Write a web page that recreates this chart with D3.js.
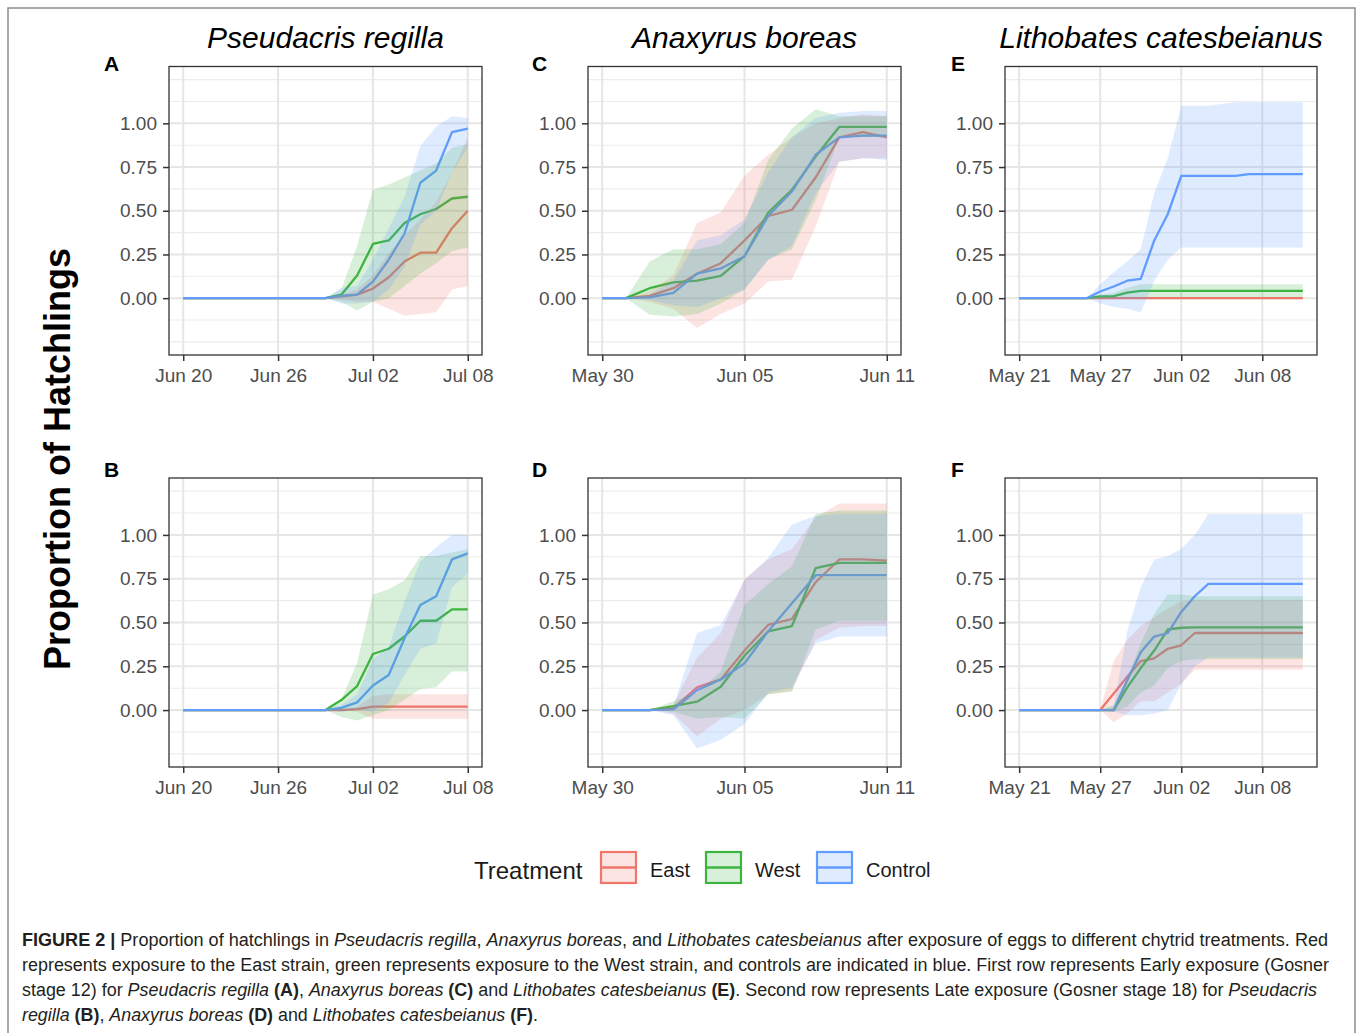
<!DOCTYPE html>
<html>
<head>
<meta charset="utf-8">
<script src="https://cdn.jsdelivr.net/npm/d3@7"></script>
<style>
  body { margin: 0; background: #fff; }
  svg text { white-space: pre; }
</style>
</head>
<body>
<div id="chart"></div>
<script>
// ---- data ----
// Pseudacris regilla: Jun 20 .. Jul 08
const prStart = '2018-06-20', prEnd = '2018-07-08';
const prTicks = ['2018-06-20', '2018-06-26', '2018-07-02', '2018-07-08'];
// Anaxyrus boreas: May 30 .. Jun 11
const abStart = '2018-05-30', abEnd = '2018-06-11';
const abTicks = ['2018-05-30', '2018-06-05', '2018-06-11'];
// Lithobates catesbeianus: May 21 .. Jun 11
const lcStart = '2018-05-21', lcEnd = '2018-06-11';
const lcTicks = ['2018-05-21', '2018-05-27', '2018-06-02', '2018-06-08'];

const yTicks = [0, 0.25, 0.5, 0.75, 1];
const treatments = ['East', 'West', 'Control'];

// A - Pseudacris regilla, early
const A_east      = [0,0,0,0,0,0,0,0,0,0, 0.01,0.02,0.055,0.12,0.21,0.26,0.26,0.40,0.50];
const A_eastLo    = [0,0,0,0,0,0,0,0,0,0, -0.01,-0.02,-0.02,-0.06,-0.10,-0.09,-0.08,0.05,0.07];
const A_eastHi    = [0,0,0,0,0,0,0,0,0,0, 0.02,0.05,0.13,0.26,0.36,0.45,0.55,0.72,0.92];
const A_west      = [0,0,0,0,0,0,0,0,0,0, 0.02,0.13,0.31,0.33,0.43,0.48,0.51,0.57,0.58];
const A_westLo    = [0,0,0,0,0,0,0,0,0,0, -0.02,-0.07,-0.02,0.0,0.07,0.14,0.20,0.27,0.29];
const A_westHi    = [0,0,0,0,0,0,0,0,0,0, 0.05,0.30,0.62,0.65,0.69,0.73,0.77,0.86,0.88];
const A_control   = [0,0,0,0,0,0,0,0,0,0, 0.013,0.02,0.095,0.22,0.37,0.66,0.73,0.95,0.97];
const A_controlLo = [0,0,0,0,0,0,0,0,0,0, -0.03,-0.03,-0.02,0.05,0.18,0.42,0.50,0.72,0.86];
const A_controlHi = [0,0,0,0,0,0,0,0,0,0, 0.06,0.07,0.22,0.40,0.58,0.87,0.98,1.04,1.03];

// B - Pseudacris regilla, late
const B_east      = [0,0,0,0,0,0,0,0,0,0, 0,0.006,0.02,0.02,0.02,0.02,0.02,0.02,0.02];
const B_eastLo    = [0,0,0,0,0,0,0,0,0,0, 0,-0.01,-0.05,-0.05,-0.05,-0.05,-0.05,-0.05,-0.05];
const B_eastHi    = [0,0,0,0,0,0,0,0,0,0, 0,0.02,0.08,0.09,0.09,0.09,0.09,0.09,0.09];
const B_west      = [0,0,0,0,0,0,0,0,0,0, 0.057,0.137,0.32,0.35,0.42,0.51,0.51,0.575,0.575];
const B_westLo    = [0,0,0,0,0,0,0,0,0,0, -0.04,-0.06,-0.03,0.0,0.06,0.12,0.13,0.22,0.22];
const B_westHi    = [0,0,0,0,0,0,0,0,0,0, 0.06,0.27,0.66,0.69,0.74,0.88,0.88,0.90,0.92];
const B_control   = [0,0,0,0,0,0,0,0,0,0, 0.013,0.044,0.14,0.20,0.41,0.60,0.65,0.86,0.895];
const B_controlLo = [0,0,0,0,0,0,0,0,0,0, -0.01,0.0,-0.01,0.04,0.20,0.35,0.38,0.70,0.78];
const B_controlHi = [0,0,0,0,0,0,0,0,0,0, 0.03,0.09,0.29,0.36,0.62,0.85,0.93,1.00,1.00];

// C - Anaxyrus boreas, early
const C_east      = [0,0,0.013,0.057,0.14,0.20,0.33,0.47,0.505,0.69,0.92,0.95,0.92];
const C_eastLo    = [0,0,-0.02,-0.06,-0.17,-0.09,-0.03,0.095,0.105,0.41,0.78,0.80,0.80];
const C_eastHi    = [0,0,0.04,0.13,0.43,0.49,0.70,0.82,0.92,1.00,1.03,1.05,1.04];
const C_west      = [0,0,0.057,0.09,0.10,0.128,0.24,0.49,0.62,0.81,0.98,0.98,0.98];
const C_westLo    = [0,0,-0.095,-0.105,-0.09,-0.03,0.05,0.22,0.28,0.56,0.92,0.92,0.92];
const C_westHi    = [0,0,0.21,0.28,0.28,0.31,0.43,0.79,0.97,1.08,1.04,1.04,1.04];
const C_control   = [0,0,0.004,0.03,0.14,0.17,0.24,0.47,0.61,0.82,0.92,0.93,0.93];
const C_controlLo = [0,0,-0.01,-0.04,-0.05,0.0,0.05,0.22,0.30,0.60,0.78,0.80,0.79];
const C_controlHi = [0,0,0.02,0.10,0.33,0.36,0.45,0.72,0.92,1.03,1.06,1.07,1.07];

// D - Anaxyrus boreas, late
const D_east      = [0,0,0,0.01,0.13,0.175,0.34,0.486,0.52,0.73,0.86,0.86,0.853];
const D_eastLo    = [0,0,0,-0.02,-0.15,-0.05,0.0,0.09,0.11,0.40,0.47,0.48,0.48];
const D_eastHi    = [0,0,0,0.03,0.30,0.44,0.75,0.86,0.92,1.10,1.18,1.18,1.18];
const D_west      = [0,0,0,0.023,0.048,0.133,0.31,0.45,0.48,0.81,0.84,0.84,0.84];
const D_westLo    = [0,0,0,-0.01,-0.05,-0.04,-0.05,0.09,0.105,0.46,0.51,0.51,0.51];
const D_westHi    = [0,0,0,0.05,0.10,0.22,0.60,0.72,0.82,1.12,1.14,1.14,1.14];
const D_control   = [0,0,0,0.004,0.114,0.175,0.267,0.45,0.61,0.77,0.77,0.77,0.77];
const D_controlLo = [0,0,0,-0.03,-0.22,-0.17,-0.08,0.10,0.13,0.38,0.42,0.42,0.42];
const D_controlHi = [0,0,0,0.02,0.44,0.486,0.74,0.87,1.06,1.11,1.12,1.12,1.12];

// E - Lithobates catesbeianus, early
const E_east      = [0,0,0,0,0,0,0,0,0,0,0,0,0,0,0,0,0,0,0,0,0,0];
const E_eastLo    = [0,0,0,0,0,0,0,0,0,0,0,0,0,0,0,0,0,0,0,0,0,0];
const E_eastHi    = [0,0,0,0,0,0,0,0,0,0,0,0,0,0,0,0,0,0,0,0,0,0];
const E_west      = [0,0,0,0,0,0, 0.01,0.012,0.032,0.042,0.042,0.042,0.042,0.042,0.042,0.042,0.042,0.042,0.042,0.042,0.042,0.042];
const E_westLo    = [0,0,0,0,0,0, 0,0,0,0.005,0.005,0.005,0.005,0.005,0.005,0.005,0.005,0.005,0.005,0.005,0.005,0.005];
const E_westHi    = [0,0,0,0,0,0, 0.02,0.03,0.06,0.08,0.08,0.08,0.08,0.08,0.08,0.08,0.08,0.08,0.08,0.08,0.08,0.08];
const E_control   = [0,0,0,0,0,0, 0.038,0.067,0.10,0.11,0.33,0.48,0.70,0.70,0.70,0.70,0.70,0.71,0.71,0.71,0.71,0.71];
const E_controlLo = [0,0,0,0,0,0, -0.03,-0.05,-0.06,-0.08,0.10,0.22,0.29,0.29,0.29,0.29,0.29,0.29,0.29,0.29,0.29,0.29];
const E_controlHi = [0,0,0,0,0,0, 0.08,0.15,0.21,0.28,0.60,0.80,1.10,1.10,1.10,1.11,1.12,1.12,1.12,1.12,1.12,1.12];

// F - Lithobates catesbeianus, late
const F_east      = [0,0,0,0,0,0, 0,0.095,0.19,0.28,0.295,0.35,0.37,0.44,0.44,0.44,0.44,0.44,0.44,0.44,0.44,0.44];
const F_eastLo    = [0,0,0,0,0,0, 0,-0.07,-0.02,0.05,0.05,0.10,0.15,0.23,0.23,0.23,0.23,0.23,0.23,0.23,0.23,0.23];
const F_eastHi    = [0,0,0,0,0,0, 0,0.28,0.40,0.48,0.53,0.58,0.62,0.63,0.63,0.63,0.63,0.63,0.63,0.63,0.63,0.63];
const F_west      = [0,0,0,0,0,0,0, 0,0.13,0.24,0.34,0.46,0.47,0.472,0.472,0.472,0.472,0.472,0.472,0.472,0.472,0.472];
const F_westLo    = [0,0,0,0,0,0,0, -0.01,0.02,0.10,0.14,0.24,0.28,0.29,0.29,0.29,0.29,0.29,0.29,0.29,0.29,0.29];
const F_westHi    = [0,0,0,0,0,0,0, 0.03,0.18,0.38,0.55,0.66,0.66,0.65,0.65,0.65,0.65,0.65,0.65,0.65,0.65,0.65];
const F_control   = [0,0,0,0,0,0,0, 0,0.17,0.33,0.42,0.44,0.56,0.65,0.72,0.72,0.72,0.72,0.72,0.72,0.72,0.72];
const F_controlLo = [0,0,0,0,0,0,0, -0.01,-0.03,-0.03,-0.02,0.0,0.15,0.25,0.30,0.30,0.30,0.30,0.30,0.30,0.30,0.30];
const F_controlHi = [0,0,0,0,0,0,0, 0.02,0.45,0.70,0.86,0.88,0.92,1.00,1.12,1.12,1.12,1.12,1.12,1.12,1.12,1.12];

const speciesTitles = ['Pseudacris regilla', 'Anaxyrus boreas', 'Lithobates catesbeianus'];

// ---- layout ----
var W = 1358, H = 1033;
var colors = { East: '#F0766C', West: '#3DB43F', Control: '#619CFF' };
var cols = [{ x0: 169, x1: 482, tag: 104 }, { x0: 588, x1: 901, tag: 532 }, { x0: 1005, x1: 1317, tag: 951 }];
var rows = [{ y0: 66.5, y1: 355, tag: 71 }, { y0: 478, y1: 767, tag: 477 }];
var sans = '"Liberation Sans", Arial, Helvetica, sans-serif';

var panels = [
  { tag: 'A', col: 0, row: 0, start: prStart, end: prEnd, ticks: prTicks,
    East: [A_east, A_eastLo, A_eastHi], West: [A_west, A_westLo, A_westHi], Control: [A_control, A_controlLo, A_controlHi] },
  { tag: 'B', col: 0, row: 1, start: prStart, end: prEnd, ticks: prTicks,
    East: [B_east, B_eastLo, B_eastHi], West: [B_west, B_westLo, B_westHi], Control: [B_control, B_controlLo, B_controlHi] },
  { tag: 'C', col: 1, row: 0, start: abStart, end: abEnd, ticks: abTicks,
    East: [C_east, C_eastLo, C_eastHi], West: [C_west, C_westLo, C_westHi], Control: [C_control, C_controlLo, C_controlHi] },
  { tag: 'D', col: 1, row: 1, start: abStart, end: abEnd, ticks: abTicks,
    East: [D_east, D_eastLo, D_eastHi], West: [D_west, D_westLo, D_westHi], Control: [D_control, D_controlLo, D_controlHi] },
  { tag: 'E', col: 2, row: 0, start: lcStart, end: lcEnd, ticks: lcTicks,
    East: [E_east, E_eastLo, E_eastHi], West: [E_west, E_westLo, E_westHi], Control: [E_control, E_controlLo, E_controlHi] },
  { tag: 'F', col: 2, row: 1, start: lcStart, end: lcEnd, ticks: lcTicks,
    East: [F_east, F_eastLo, F_eastHi], West: [F_west, F_westLo, F_westHi], Control: [F_control, F_controlLo, F_controlHi] }
];

var svg = d3.select('#chart').append('svg').attr('width', W).attr('height', H)
  .style('font-family', sans);

svg.append('rect').attr('width', W).attr('height', H).attr('fill', '#fff');
// figure frame
svg.append('rect').attr('x', 8).attr('y', 8).attr('width', 1347).attr('height', 1050)
  .attr('fill', 'none').attr('stroke', '#8c8c8c').attr('stroke-width', 1.5);

var parse = function (s) { return new Date(s + 'T00:00:00Z'); };
var fmt = d3.utcFormat('%b %d');

panels.forEach(function (p) {
  var c = cols[p.col], r = rows[p.row];
  var t0 = parse(p.start), t1 = parse(p.end);
  var dates = d3.utcDay.range(t0, d3.utcDay.offset(t1, 1));
  var span = t1 - t0;
  var x = d3.scaleUtc().domain([new Date(+t0 - 0.05 * span), new Date(+t1 + 0.05 * span)]).range([c.x0, c.x1]);
  var y = d3.scaleLinear().domain([-0.325, 1.325]).range([r.y1, r.y0]);
  var g = svg.append('g');

  // grid
  var minor = d3.range(-0.25, 1.26, 0.125).filter(function (v) { return yTicks.indexOf(+v.toFixed(3)) < 0; });
  g.selectAll('line.minor').data(minor).enter().append('line')
    .attr('x1', c.x0).attr('x2', c.x1)
    .attr('y1', function (d) { return y(d); }).attr('y2', function (d) { return y(d); })
    .attr('stroke', '#ececec').attr('stroke-width', 1.1);
  g.selectAll('line.majy').data(yTicks).enter().append('line')
    .attr('x1', c.x0).attr('x2', c.x1)
    .attr('y1', function (d) { return y(d); }).attr('y2', function (d) { return y(d); })
    .attr('stroke', '#e6e6e6').attr('stroke-width', 2);
  g.selectAll('line.majx').data(p.ticks).enter().append('line')
    .attr('x1', function (d) { return x(parse(d)); }).attr('x2', function (d) { return x(parse(d)); })
    .attr('y1', r.y0).attr('y2', r.y1)
    .attr('stroke', '#e6e6e6').attr('stroke-width', 2);

  // lines first, ribbons drawn over them
  treatments.forEach(function (k) {
    var vals = p[k][0];
    var line = d3.line().x(function (d, i) { return x(dates[i]); }).y(function (d) { return y(d); });
    g.append('path').attr('d', line(vals)).attr('fill', 'none')
      .attr('stroke', colors[k]).attr('stroke-width', 2.3).attr('stroke-linejoin', 'round');
  });
  treatments.forEach(function (k) {
    var lo = p[k][1], hi = p[k][2];
    var area = d3.area().x(function (d, i) { return x(dates[i]); })
      .y0(function (d, i) { return y(lo[i]); }).y1(function (d, i) { return y(hi[i]); });
    g.append('path').attr('d', area(lo)).attr('fill', colors[k]).attr('fill-opacity', 0.2);
  });

  // panel border
  g.append('rect').attr('x', c.x0).attr('y', r.y0).attr('width', c.x1 - c.x0).attr('height', r.y1 - r.y0)
    .attr('fill', 'none').attr('stroke', '#333').attr('stroke-width', 1.3);

  // axes
  var xa = g.append('g').attr('transform', 'translate(0,' + r.y1 + ')')
    .call(d3.axisBottom(x).tickValues(p.ticks.map(parse)).tickFormat(fmt).tickSize(6).tickPadding(7.5));
  var ya = g.append('g').attr('transform', 'translate(' + c.x0 + ',0)')
    .call(d3.axisLeft(y).tickValues(yTicks).tickFormat(d3.format('.2f')).tickSize(6).tickPadding(6));
  [xa, ya].forEach(function (a) {
    a.select('.domain').remove();
    a.selectAll('line').attr('stroke', '#333').attr('stroke-width', 1.5);
    a.selectAll('text').attr('fill', '#4d4d4d').style('font-size', '19px').style('font-family', sans);
  });

  // tag
  svg.append('text').attr('x', c.tag).attr('y', r.tag)
    .style('font-size', '21px').style('font-weight', 'bold').attr('fill', '#000').text(p.tag);
});

// column titles
speciesTitles.forEach(function (t, i) {
  svg.append('text').attr('x', (cols[i].x0 + cols[i].x1) / 2).attr('y', 48)
    .attr('text-anchor', 'middle').style('font-size', '30px').style('font-style', 'italic')
    .attr('fill', '#000').text(t);
});

// y title
svg.append('text').attr('transform', 'translate(70,459) rotate(-90)')
  .attr('text-anchor', 'middle').style('font-size', '36px').style('font-weight', 'bold')
  .attr('fill', '#000').text('Proportion of Hatchlings');

// legend
var legX = [600, 705, 816];
svg.append('text').attr('x', 474).attr('y', 879).style('font-size', '24px').attr('fill', '#1a1a1a').text('Treatment');
treatments.forEach(function (k, i) {
  var lg = svg.append('g').attr('transform', 'translate(' + legX[i] + ',851)');
  lg.append('rect').attr('x', 1).attr('y', 1).attr('width', 35).attr('height', 31)
    .attr('fill', colors[k]).attr('fill-opacity', 0.2).attr('stroke', colors[k]).attr('stroke-width', 2.2);
  lg.append('line').attr('x1', 1).attr('x2', 36).attr('y1', 16.5).attr('y2', 16.5)
    .attr('stroke', colors[k]).attr('stroke-width', 2.5);
  lg.append('text').attr('x', 50).attr('y', 26).style('font-size', '20px').attr('fill', '#1a1a1a').text(k);
});

// caption
var capLines = [
  { w: 1306, segs: [['FIGURE 2 |', 'b'], [' Proportion of hatchlings in ', ''], ['Pseudacris regilla', 'i'], [', ', ''], ['Anaxyrus boreas', 'i'],
    [', and ', ''], ['Lithobates catesbeianus', 'i'], [' after exposure of eggs to different chytrid treatments. Red', '']] },
  { w: 1307, segs: [['represents exposure to the East strain, green represents exposure to the West strain, and controls are indicated in blue. First row represents Early exposure (Gosner', '']] },
  { w: 1295, segs: [['stage 12) for ', ''], ['Pseudacris regilla', 'i'], [' ', ''], ['(A)', 'b'], [', ', ''], ['Anaxyrus boreas', 'i'], [' ', ''], ['(C)', 'b'],
    [' and ', ''], ['Lithobates catesbeianus', 'i'], [' ', ''], ['(E)', 'b'], ['. Second row represents Late exposure (Gosner stage 18) for ', ''], ['Pseudacris', 'i']] },
  { w: 516, segs: [['regilla', 'i'], [' ', ''], ['(B)', 'b'], [', ', ''], ['Anaxyrus boreas', 'i'], [' ', ''], ['(D)', 'b'], [' and ', ''],
    ['Lithobates catesbeianus', 'i'], [' ', ''], ['(F)', 'b'], ['.', '']] }
];
capLines.forEach(function (l, i) {
  var t = svg.append('text').attr('x', 22).attr('y', 946 + i * 25)
    .attr('textLength', l.w).attr('lengthAdjust', 'spacingAndGlyphs')
    .style('font-size', '18px').style('font-family', '"Liberation Sans Narrow", "Liberation Sans", Arial, sans-serif')
    .attr('fill', '#231f20');
  l.segs.forEach(function (s) {
    var ts = t.append('tspan').text(s[0]);
    if (s[1] === 'b') ts.style('font-weight', 'bold');
    if (s[1] === 'i') ts.style('font-style', 'italic');
  });
});
</script>
</body>
</html>
